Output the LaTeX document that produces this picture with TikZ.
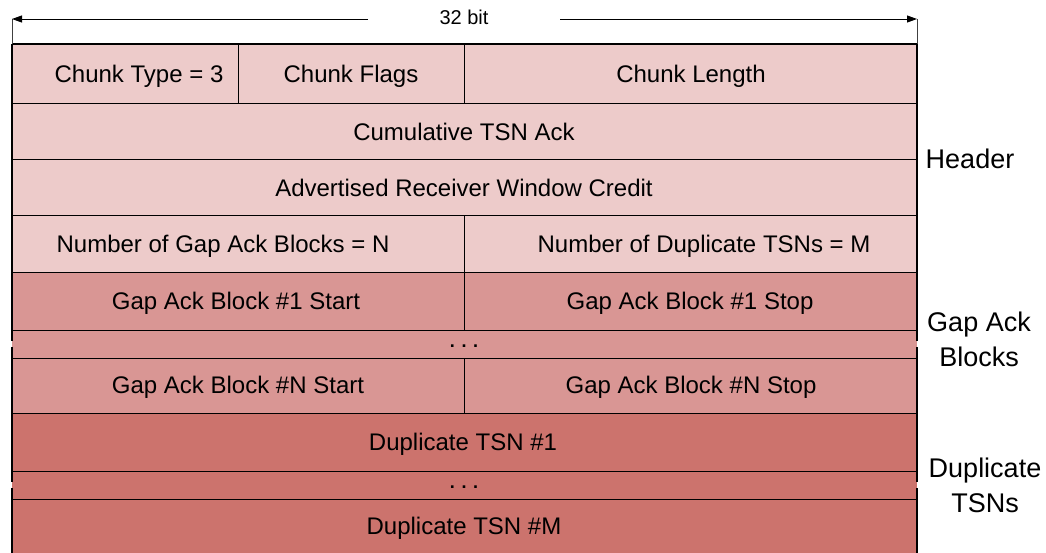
\documentclass[tikz,border=0pt]{standalone}
\usepackage{fontspec}
\setmainfont{Liberation Sans}
\usetikzlibrary{arrows.meta}
\definecolor{hdrfill}{HTML}{EDCBCA}
\definecolor{gapfill}{HTML}{D99694}
\definecolor{dupfill}{HTML}{CC736D}
\begin{document}
\begin{tikzpicture}[x=1pt,y=-1pt,
  field/.style={font=\fontsize{24}{28}\selectfont, inner sep=0pt, anchor=base},
  side/.style={font=\fontsize{27}{35}\selectfont, inner sep=0pt, anchor=base, align=center},
  dots/.style={font=\fontsize{18}{20}\selectfont\bfseries, inner sep=0pt, anchor=base},
  rule/.style={line width=1pt, draw=black},
  frame/.style={line width=1.6pt, draw=black},
  dim/.style={line width=0.9pt, -{Triangle[length=10pt,width=7pt]}},
  tick/.style={line width=0.8pt, draw=black!75}]

\useasboundingbox (0,0) rectangle (1046,553);

% field backgrounds: header, gap ack blocks, duplicate TSNs
\fill[hdrfill] (12,44) rectangle (917,272);
\fill[gapfill] (12,272) rectangle (917,413);
\fill[dupfill] (12,413) rectangle (917,560);

% word boundaries
\draw[frame] (12,44) -- (917,44);
\foreach \y in {104,160,216,272,330.5,358,413,471.5,499.5}
  \draw[rule] (12,\y) -- (917,\y);

% field dividers inside words
\draw[rule] (238,44) -- (238,104);
\draw[rule] (464,44) -- (464,104);
\draw[rule] (464,216) -- (464,330.5);
\draw[rule] (464,358) -- (464,413);

% side edges, broken where rows are elided
\foreach \x in {12,917} {
  \draw[frame] (\x,44) -- (\x,341);
  \draw[frame] (\x,347) -- (\x,482);
  \draw[frame] (\x,488) -- (\x,560);
}

% 32-bit width dimension
\coordinate (lt) at (12,19);
\coordinate (rt) at (917,19);
\coordinate (ltb) at (12,44);
\coordinate (rtb) at (917,44);
\coordinate (la) at (368,19);
\coordinate (ra) at (560,19);
\node[font=\fontsize{20}{24}\selectfont, inner sep=0pt, anchor=base] (bits) at (464,25) {32 bit};
\draw[tick] (lt) -- (ltb);
\draw[tick] (rt) -- (rtb);
\draw[dim] (la) -- (lt);
\draw[dim] (ra) -- (rt);

% field labels
\node[field] (ctype)  at (139,83)   {Chunk Type = 3};
\node[field] (cflags) at (351,83)   {Chunk Flags};
\node[field] (clen)   at (691,83)   {Chunk Length};
\node[field] (ctsn)   at (464,140.5) {Cumulative TSN Ack};
\node[field] (arwc)   at (464,196.5) {Advertised Receiver Window Credit};
\node[field] (ngap)   at (223,252.5) {Number of Gap Ack Blocks = N};
\node[field] (ndup)   at (704,252.5) {Number of Duplicate TSNs = M};
\node[field] (g1s)    at (236,309.5) {Gap Ack Block \#1 Start};
\node[field] (g1e)    at (690,309.5) {Gap Ack Block \#1 Stop};
\node[dots]  (gdots)  at (464,347)   {. . .};
\node[field] (gns)    at (238,393.5) {Gap Ack Block \#N Start};
\node[field] (gne)    at (691,393.5) {Gap Ack Block \#N Stop};
\node[field] (d1)     at (463,450)   {Duplicate TSN \#1};
\node[dots]  (ddots)  at (464,488)   {. . .};
\node[field] (dm)     at (464,534.5) {Duplicate TSN \#M};

% section labels (anchored on the baseline of their last line)
\node[side] (hdr) at (970,168.5) {Header};
\node[side] (gab) at (979,366)   {Gap Ack\\Blocks};
\node[side] (dts) at (985,512)   {Duplicate\\TSNs};
\end{tikzpicture}
\end{document}
